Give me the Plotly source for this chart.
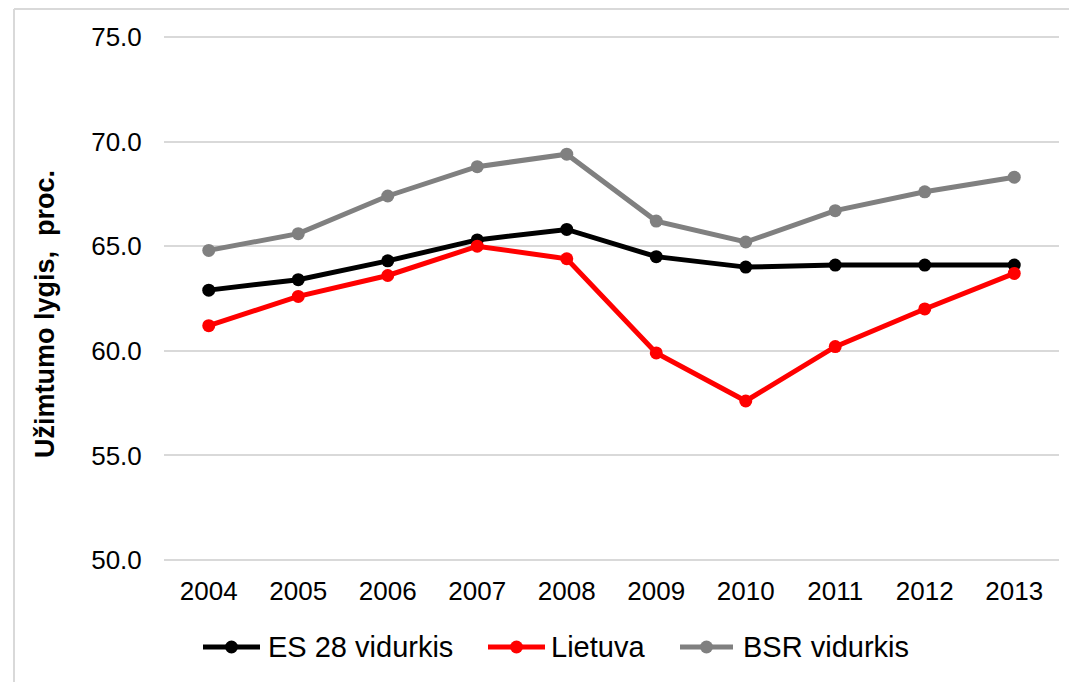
import plotly.graph_objects as go

years = ["2004", "2005", "2006", "2007", "2008", "2009", "2010", "2011", "2012", "2013"]
es28 = [62.9, 63.4, 64.3, 65.3, 65.8, 64.5, 64.0, 64.1, 64.1, 64.1]
lietuva = [61.2, 62.6, 63.6, 65.0, 64.4, 59.9, 57.6, 60.2, 62.0, 63.7]
bsr = [64.8, 65.6, 67.4, 68.8, 69.4, 66.2, 65.2, 66.7, 67.6, 68.3]

series_names = ["ES 28 vidurkis", "Lietuva", "BSR vidurkis"]
series_colors = ["#000000", "#ff0000", "#808080"]
y_ticks = [50, 55, 60, 65, 70, 75]
y_title = "Užimtumo lygis,  proc."

FONT = "Arial, Liberation Sans, sans-serif"

fig = go.Figure()
for name, vals, col in zip(series_names, [es28, lietuva, bsr], series_colors):
    fig.add_trace(go.Scatter(
        x=years, y=vals, name=name, mode="lines+markers",
        line=dict(color=col, width=5),
        marker=dict(color=col, size=13),
        showlegend=False,
    ))

# page has an 8px body margin; gridlines 75..50 span screen y 37..560,
# plot area padded by 3px each side so plotly keeps the end gridlines
PADPX = 3
W, H = 1069, 674
ml, mt = 156, 29 - PADPX
pw, ph = 895, 523 + 2 * PADPX
mr, mb = W - ml - pw, H - mt - ph
pad_units = PADPX * 25 / 523
bottom = 560 + PADPX


def px(X):
    return (X - 164) / pw


def py(Y):
    return (bottom - Y) / ph


shapes = []
# outer chart border (top and left visible)
shapes.append(dict(type="line", xref="paper", yref="paper", x0=px(14), x1=px(1090), y0=py(9), y1=py(9),
                   line=dict(color="#d9d9d9", width=2)))
shapes.append(dict(type="line", xref="paper", yref="paper", x0=px(14), x1=px(14), y0=py(9), y1=py(700),
                   line=dict(color="#d9d9d9", width=2)))

# legend
leg_y = 647
leg_items = [(203, 260, 266), (488, 545, 549), (680, 733, 741)]
annotations = []
for (lx0, lx1, tx), name, col in zip(leg_items, series_names, series_colors):
    shapes.append(dict(type="line", xref="paper", yref="paper", x0=px(lx0), x1=px(lx1),
                       y0=py(leg_y), y1=py(leg_y), line=dict(color=col, width=5)))
    shapes.append(dict(type="circle", xref="paper", yref="paper", xsizemode="pixel", ysizemode="pixel",
                       xanchor=px((lx0 + lx1) / 2), yanchor=py(leg_y), x0=-6.5, x1=6.5, y0=-6.5, y1=6.5,
                       fillcolor=col, line=dict(color=col, width=0)))
    annotations.append(dict(text=name, xref="paper", yref="paper", x=px(tx), y=py(leg_y),
                            xanchor="left", yanchor="middle", showarrow=False,
                            font=dict(size=29, color="#000000", family=FONT)))

annotations.append(dict(text="<b>" + y_title + "</b>", xref="paper", yref="paper", x=px(45), y=py(314),
                        xanchor="center", yanchor="middle", textangle=-90, showarrow=False,
                        font=dict(size=27, color="#000000", family=FONT)))

fig.update_layout(
    width=W, height=H,
    margin=dict(l=ml, r=mr, t=mt, b=mb, pad=0),
    paper_bgcolor="white", plot_bgcolor="white",
    font=dict(family=FONT, color="#000000", size=26),
    showlegend=False,
    shapes=shapes,
    annotations=annotations,
    xaxis=dict(type="category", range=[-0.5, 9.5], showgrid=False, showline=False,
               ticks="outside", ticklen=5,
               tickcolor="rgba(0,0,0,0)", tickfont=dict(size=26), zeroline=False),
    yaxis=dict(range=[50 - pad_units, 75 + pad_units], tickvals=y_ticks, tickformat=".1f", showgrid=True,
               gridcolor="#d9d9d9", gridwidth=2, showline=False, zeroline=False,
               ticks="outside", ticklen=16, tickcolor="rgba(0,0,0,0)",
               tickfont=dict(size=26)),
)

fig.write_html("out.html")
